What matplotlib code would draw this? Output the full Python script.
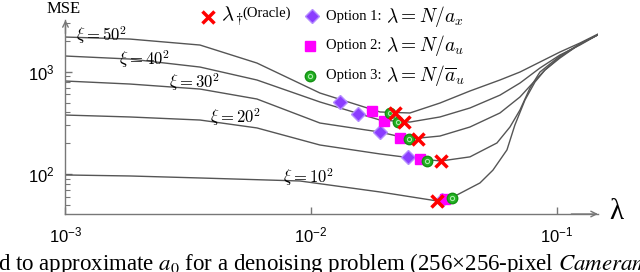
import numpy as np
import matplotlib.pyplot as plt
import matplotlib as mpl

mpl.rcParams['mathtext.fontset'] = 'cm'

# MSE curves vs lambda, one per noise level xi
lam_a = [0.001, 0.00183, 0.00353, 0.00602, 0.01087, 0.01908, 0.02527, 0.03348,
         0.04436, 0.05876, 0.07089, 0.0855, 0.1031, 0.1244, 0.1473]
mse_50 = [2184, 2087, 1824, 1216, 619, 404, 395, 494, 648, 830, 993, 1244, 1558, 1908, 2336]
mse_40 = [1424, 1331, 1111, 830, 506, 337, 322, 361, 442, 590, 775, 1087, 1456, 1824, 2300]

lam_30 = [0.001, 0.00183, 0.00353, 0.00602, 0.01087, 0.01908, 0.02527, 0.03348,
          0.04436, 0.05876, 0.07089, 0.0779, 0.0896, 0.1031, 0.1244, 0.1473]
mse_30 = [811, 758, 677, 541, 315, 257, 220, 235, 288, 395, 566, 725, 1039, 1392, 1866, 2300]

lam_20 = [0.001, 0.00183, 0.00353, 0.00602, 0.01087, 0.01908, 0.02776, 0.0338, 0.04436,
          0.05713, 0.06455, 0.07089, 0.0779, 0.0855, 0.1031, 0.1244, 0.1473]
mse_20 = [377, 361, 337, 282, 192, 157, 140, 134, 147, 201, 288, 422, 693, 993, 1424, 1866, 2300]

lam_10 = [0.001, 0.00183, 0.00353, 0.00901, 0.01908, 0.03256, 0.03926, 0.04872, 0.05502,
          0.06276, 0.0676, 0.0743, 0.0816, 0.0896, 0.1031, 0.1244, 0.1473]
mse_10 = [97.8, 95.6, 91.4, 85.4, 66.7, 54.5, 62.3, 81.7, 109, 172, 301, 529, 793, 1039,
          1361, 1866, 2300]

# chosen lambdas (order: xi = 50, 40, 30, 20, 10)
oracle_lam = [0.0220, 0.0239, 0.0273, 0.0338, 0.0325]
oracle_mse = [395, 322, 220, 134, 54]
opt1_lam = [0.0131, 0.0155, 0.0191, 0.0248, 0.0340]
opt1_mse = [506, 386, 258, 147, 55.7]
opt2_lam = [0.0177, 0.0198, 0.0230, 0.0278, 0.0351]
opt2_mse = [413, 330, 225, 140, 57]
opt3_lam = [0.0210, 0.0226, 0.0251, 0.0297, 0.0375]
opt3_mse = [395, 322, 220, 134, 58]

curve_labels = [r'$\xi=50^2$', r'$\xi=40^2$', r'$\xi=30^2$', r'$\xi=20^2$', r'$\xi=10^2$']

fig = plt.figure(figsize=(6.4, 2.72), dpi=100)
ax = fig.add_axes([0.1023, 0.2132, 0.832, 0.713])

gray = '#555555'
for lam, mse in [(lam_a, mse_50), (lam_a, mse_40), (lam_30, mse_30), (lam_20, mse_20), (lam_10, mse_10)]:
    ax.plot(lam, mse, color=gray, lw=1.0, zorder=2)

# curve labels
label_pos = [(0.001395, 2284), (0.00209, 1331), (0.00334, 793), (0.00494, 361), (0.00971, 93.5)]
for (lx, ly), t in zip(label_pos, curve_labels):
    ax.text(lx, ly, t, fontsize=12, ha='center', va='center', zorder=3)

dia = dict(marker='D', ms=7, mfc='#8b3dff', mec='#b58cff', mew=1.0, ls='none', zorder=4)
sq = dict(marker='s', ms=7, mfc='#ff00ff', mec='#ff00ff', ls='none', zorder=5)
circ = dict(marker='o', ms=7.5, mfc='#22b022', mec='#139013', mew=1.0, ls='none', zorder=6)
ring = dict(marker='o', ms=3, mfc='none', mec='#a8eca8', mew=0.8, ls='none', zorder=7)
cross = dict(marker='x', ms=9, mew=2.5, color='#ff0000', ls='none', zorder=8)

ax.plot(opt1_lam, opt1_mse, **dia)
ax.plot(opt2_lam, opt2_mse, **sq)
ax.plot(opt3_lam, opt3_mse, **circ)
ax.plot(opt3_lam, opt3_mse, **ring)
ax.plot(oracle_lam, oracle_mse, **cross)

ax.set_xscale('log')
ax.set_yscale('log')
ax.set_xlim(1e-3, 0.1473)
ax.set_ylim(40.6, 3200)

ax.spines[['top', 'right']].set_visible(False)
for s in ['left', 'bottom']:
    ax.spines[s].set_color('#777777')
    ax.spines[s].set_linewidth(1.0)
ax.annotate('', xy=(1.0, 0), xytext=(0.95, 0), xycoords='axes fraction',
            arrowprops=dict(arrowstyle='->', color='#777777', lw=1.0, shrinkA=0, shrinkB=0))
ax.annotate('', xy=(0, 1.0), xytext=(0, 0.93), xycoords='axes fraction',
            arrowprops=dict(arrowstyle='->', color='#777777', lw=1.0, shrinkA=0, shrinkB=0))

ax.xaxis.set_minor_locator(mpl.ticker.NullLocator())
ax.yaxis.set_minor_locator(mpl.ticker.LogLocator(base=10, subs=np.arange(2, 10)))
ax.yaxis.set_minor_formatter(mpl.ticker.NullFormatter())
ax.set_xticks([1e-3, 1e-2, 1e-1])
ax.set_xticklabels([r'$\mathregular{10^{-3}}$', r'$\mathregular{10^{-2}}$', r'$\mathregular{10^{-1}}$'],
                   family='Liberation Sans', fontsize=12)
ax.set_yticks([1e2, 1e3])
ax.set_yticklabels([r'$\mathregular{10^{2}}$', r'$\mathregular{10^{3}}$'],
                   family='Liberation Sans', fontsize=12)
ax.tick_params(which='both', direction='in', color='#777777')
ax.tick_params(which='major', length=5, width=1.0)
ax.tick_params(which='minor', length=3.5, width=0.8)
ax.tick_params(axis='x', pad=8)
ax.tick_params(axis='y', pad=8)

# axis names
fig.text(0.1, 0.968, 'MSE', family='Liberation Serif', fontsize=12, ha='center', va='center')
fig.text(0.9625, 0.22, 'λ', family='Liberation Serif', fontsize=21, ha='center', va='center')

# legend
ft = fig.transFigure
ax.plot([0.325], [0.9375], transform=ft, clip_on=False, **cross)
fig.text(0.345, 0.94, r'$\lambda_\dagger$', fontsize=15, ha='left', va='center')
fig.text(0.378, 0.952, '(Oracle)', family='Liberation Serif', fontsize=10.5, ha='left', va='center')

ax.plot([0.4875], [0.941], transform=ft, clip_on=False, **dia)
ax.plot([0.4845], [0.831], transform=ft, clip_on=False, **sq)
ax.plot([0.4845], [0.721], transform=ft, clip_on=False, **circ)
ax.plot([0.4845], [0.721], transform=ft, clip_on=False, **ring)
opt_text = [r'$\lambda=N/a_x$', r'$\lambda=N/a_u$', r'$\lambda=N/\overline{a}_u$']
for i, (yy, t) in enumerate(zip([0.941, 0.831, 0.721], opt_text)):
    fig.text(0.509, yy, 'Option %d:' % (i + 1), family='Liberation Serif', fontsize=10.5,
             ha='left', va='center')
    fig.text(0.603, yy, t, fontsize=14, ha='left', va='center')

# caption fragment cut off at the bottom of the image
fig.text(-0.003, 0.008, 'd to approximate $a_0$ for a denoising problem (256×256-pixel $\\mathit{Cameraman}$',
         family='Liberation Serif', math_fontfamily='stix', fontsize=16.5, ha='left', va='baseline')

plt.savefig('out.png', dpi=100)
plt.close()
